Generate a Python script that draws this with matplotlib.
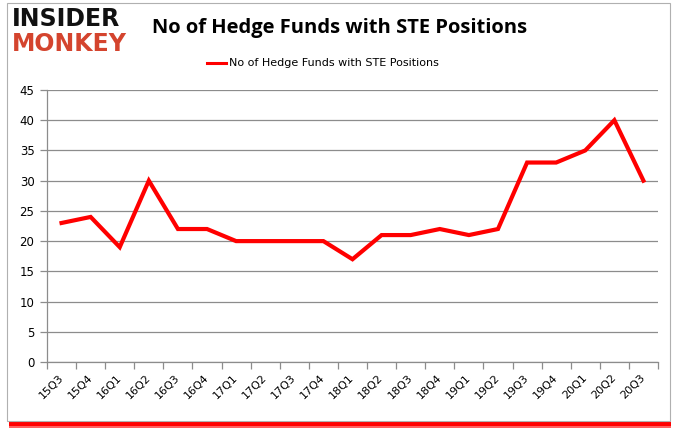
import matplotlib
matplotlib.use("Agg")
import matplotlib.pyplot as plt
from matplotlib.patches import Rectangle
import numpy as np

quarters = ["15Q3", "15Q4", "16Q1", "16Q2", "16Q3", "16Q4", "17Q1", "17Q2", "17Q3", "17Q4",
            "18Q1", "18Q2", "18Q3", "18Q4", "19Q1", "19Q2", "19Q3", "19Q4", "20Q1", "20Q2", "20Q3"]
funds = [23, 24, 19, 30, 22, 22, 20, 20, 20, 20, 17, 21, 21, 22, 21, 22, 33, 33, 35, 40, 30]
y_ticks = [0, 5, 10, 15, 20, 25, 30, 35, 40, 45]
series_name = "No of Hedge Funds with STE Positions"

fig = plt.figure(figsize=(6.8, 4.33), dpi=100)
fig.patch.set_facecolor("white")

# frame with red shadow
W, H = 680, 433
fig.patches.append(Rectangle((9 / W, 1 - 428 / H), 662 / W, 8 / H, transform=fig.transFigure,
                             facecolor="#ff6060", edgecolor="none", zorder=0))
fig.patches.append(Rectangle((9 / W, 1 - 426 / H), 662 / W, 4 / H, transform=fig.transFigure,
                             facecolor="#ff0000", edgecolor="none", zorder=0))
fig.patches.append(Rectangle((7 / W, 1 - 421 / H), 663 / W, 418 / H, transform=fig.transFigure,
                             facecolor="white", edgecolor="#b0b0b0", linewidth=0.8, zorder=1))

ax = fig.add_axes([47 / W, 1 - 362 / H, 611 / W, 272 / H])
ax.set_zorder(2)
ax.patch.set_alpha(0)
x = np.arange(len(quarters))
ax.plot(x, funds, color="#ff0000", linewidth=3.0, solid_joinstyle="miter", zorder=3)

ax.set_xlim(-0.5, len(quarters) - 0.5)
ax.set_ylim(0, 45)
ax.set_yticks(y_ticks)
ax.yaxis.grid(True, color="#8c8c8c", linewidth=0.9)
ax.set_axisbelow(True)
for s in ["top", "right"]:
    ax.spines[s].set_visible(False)
for s in ["left", "bottom"]:
    ax.spines[s].set_color("#8c8c8c")
    ax.spines[s].set_linewidth(0.9)

ax.set_xticks(x)
ax.set_xticklabels(quarters, rotation=45, fontsize=8, ha="right", va="center",
                   rotation_mode="anchor")
ax.set_xticks(np.arange(-0.5, len(quarters), 1), minor=True)
ax.tick_params(axis="x", which="major", length=0, pad=10)
ax.tick_params(axis="x", which="minor", length=5, color="#8c8c8c", width=0.9)
ax.tick_params(axis="y", length=5, color="#8c8c8c", width=0.9, labelsize=8.5, pad=4)

# title and legend
fig.text(340 / W, 1 - 28 / H, "No of Hedge Funds with STE Positions", ha="center", va="center",
         fontsize=14.5, fontweight="bold", family="Open Sans", zorder=5)
fig.lines.append(plt.Line2D([207 / W, 226 / W], [1 - 63 / H, 1 - 63 / H], transform=fig.transFigure,
                            color="#ff0000", linewidth=2.2, zorder=5))
fig.text(229 / W, 1 - 63 / H, series_name, ha="left", va="center", fontsize=8, zorder=5)

# logo
fig.text(12 / W, 1 - 19 / H, "INSIDER", ha="left", va="center", fontsize=17, fontweight="heavy",
         family="DejaVu Sans", color="#111111", zorder=5)
fig.text(12 / W, 1 - 44 / H, "MONKEY", ha="left", va="center", fontsize=17, fontweight="heavy",
         family="DejaVu Sans", color="#d4442e", zorder=5)

fig.savefig("out.png", dpi=100, facecolor="white")
